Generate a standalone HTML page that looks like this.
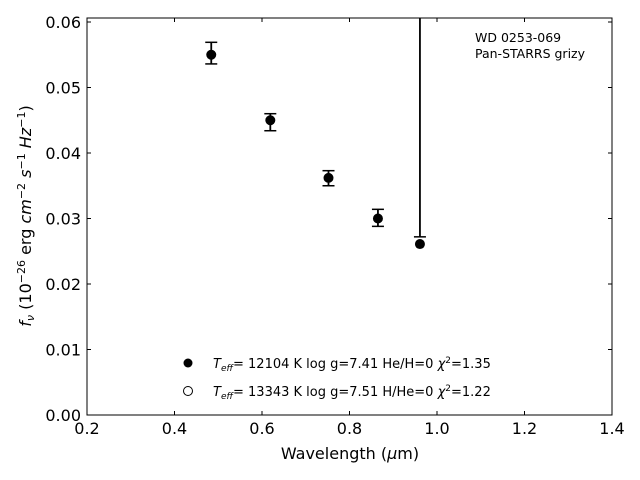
<!DOCTYPE html>
<html><head><meta charset="utf-8"><style>
html,body{margin:0;padding:0;background:#fff;}
svg{display:block;font-family:"DejaVu Sans","Liberation Sans",sans-serif;}
</style></head><body>
<svg id="chart" width="640" height="480">
<defs><clipPath id="plotclip"><rect x="87" y="18" width="525" height="397"/></clipPath></defs>
<rect x="0" y="0" width="640" height="480" fill="#fff"/>
<g id="marks" clip-path="url(#plotclip)"></g>
<g id="axes"></g>
<rect x="87" y="18" width="525" height="397" fill="none" stroke="#000" stroke-width="1"/>
<text x="475" y="42" font-size="12.5">WD 0253-069</text>
<text x="475" y="58" font-size="12.5">Pan-STARRS grizy</text>
<circle cx="188" cy="363" r="4.5" fill="#000"/>
<text x="213" y="368" font-size="13"><tspan font-style="italic">T</tspan><tspan font-style="italic" font-size="9" dy="3">eff</tspan><tspan dy="-3">= 12104 K  log g=7.41  He/H=0  </tspan><tspan font-style="italic">χ</tspan><tspan font-size="9" dy="-5">2</tspan><tspan dy="5">=1.35</tspan></text>
<circle cx="188" cy="391" r="4.5" fill="#fff" stroke="#000" stroke-width="1"/>
<text x="213" y="396" font-size="13"><tspan font-style="italic">T</tspan><tspan font-style="italic" font-size="9" dy="3">eff</tspan><tspan dy="-3">= 13343 K  log g=7.51  H/He=0  </tspan><tspan font-style="italic">χ</tspan><tspan font-size="9" dy="-5">2</tspan><tspan dy="5">=1.22</tspan></text>
<text x="350" y="459" font-size="16" text-anchor="middle">Wavelength (<tspan font-style="italic">μ</tspan>m)</text>
<text transform="translate(31,216) rotate(-90)" font-size="16" text-anchor="middle"><tspan font-style="italic">f</tspan><tspan font-style="italic" font-size="11" dy="3">ν</tspan><tspan dy="-3"> (10</tspan><tspan font-size="11" dy="-6">−26</tspan><tspan dy="6"> erg </tspan><tspan font-style="italic">cm</tspan><tspan font-size="11" dy="-6">−2</tspan><tspan dy="6"> </tspan><tspan font-style="italic">s</tspan><tspan font-size="11" dy="-6">−1</tspan><tspan dy="6"> </tspan><tspan font-style="italic">Hz</tspan><tspan font-size="11" dy="-6">−1</tspan><tspan dy="6">)</tspan></text>
</svg>
<script>
const wavelengths=[0.484,0.619,0.752,0.865,0.961];
const fluxes=[0.0550,0.0450,0.0362,0.0300,0.0261];
const errLow=[0.0536,0.0434,0.0350,0.0288,0.0272];
const errHigh=[0.0569,0.0460,0.0373,0.0314,0.1000];
const xTicks=[0.2,0.4,0.6,0.8,1.0,1.2,1.4];
const xTickLabels=["0.2","0.4","0.6","0.8","1.0","1.2","1.4"];
const yTicks=[0,0.01,0.02,0.03,0.04,0.05,0.06];
const yTickLabels=["0.00","0.01","0.02","0.03","0.04","0.05","0.06"];
const NS="http://www.w3.org/2000/svg";
const X0=87,X1=612,Y0=415;
function xs(v){return X0+(v-0.2)/1.2*(X1-X0);}
function ys(v){return Y0-v*6550;}
function mk(tag,attrs,parent){const e=document.createElementNS(NS,tag);for(const k in attrs)e.setAttribute(k,attrs[k]);parent.appendChild(e);return e;}
const axes=document.getElementById('axes'),marks=document.getElementById('marks');
xTicks.forEach((t,i)=>{const x=xs(t);
 let l=mk('line',{x1:x,x2:x,y1:Y0,y2:Y0-4,stroke:'#000'},axes);
 
 
 let l2=mk('line',{x1:x,x2:x,y1:18,y2:22,stroke:'#000'},axes);
 
 
 let tx=mk('text',{x:x,y:434,'font-size':16,'text-anchor':'middle'},axes);tx.textContent=xTickLabels[i];
 
 
});
yTicks.forEach((t,i)=>{const y=ys(t);
 let l=mk('line',{x1:X0,x2:X0+4,y1:y,y2:y,stroke:'#000'},axes);
 
 
 let l2=mk('line',{x1:X1-4,x2:X1,y1:y,y2:y,stroke:'#000'},axes);
 
 
 let tx=mk('text',{x:81,y:y+6,'font-size':16,'text-anchor':'end'},axes);tx.textContent=yTickLabels[i];
 
 
});
wavelengths.forEach((w,i)=>{const x=xs(w);
 const g=mk('g',{},marks);
 
 
 mk('line',{x1:x,x2:x,y1:ys(errLow[i]),y2:ys(errHigh[i]),stroke:'#000','stroke-width':1.8},g);
 mk('line',{x1:x-6,x2:x+6,y1:ys(errLow[i]),y2:ys(errLow[i]),stroke:'#000','stroke-width':1.5},g);
 mk('line',{x1:x-6,x2:x+6,y1:ys(errHigh[i]),y2:ys(errHigh[i]),stroke:'#000','stroke-width':1.5},g);
 mk('circle',{cx:x,cy:ys(fluxes[i]),r:5,fill:'#000'},g);
});
</script>
</body></html>
